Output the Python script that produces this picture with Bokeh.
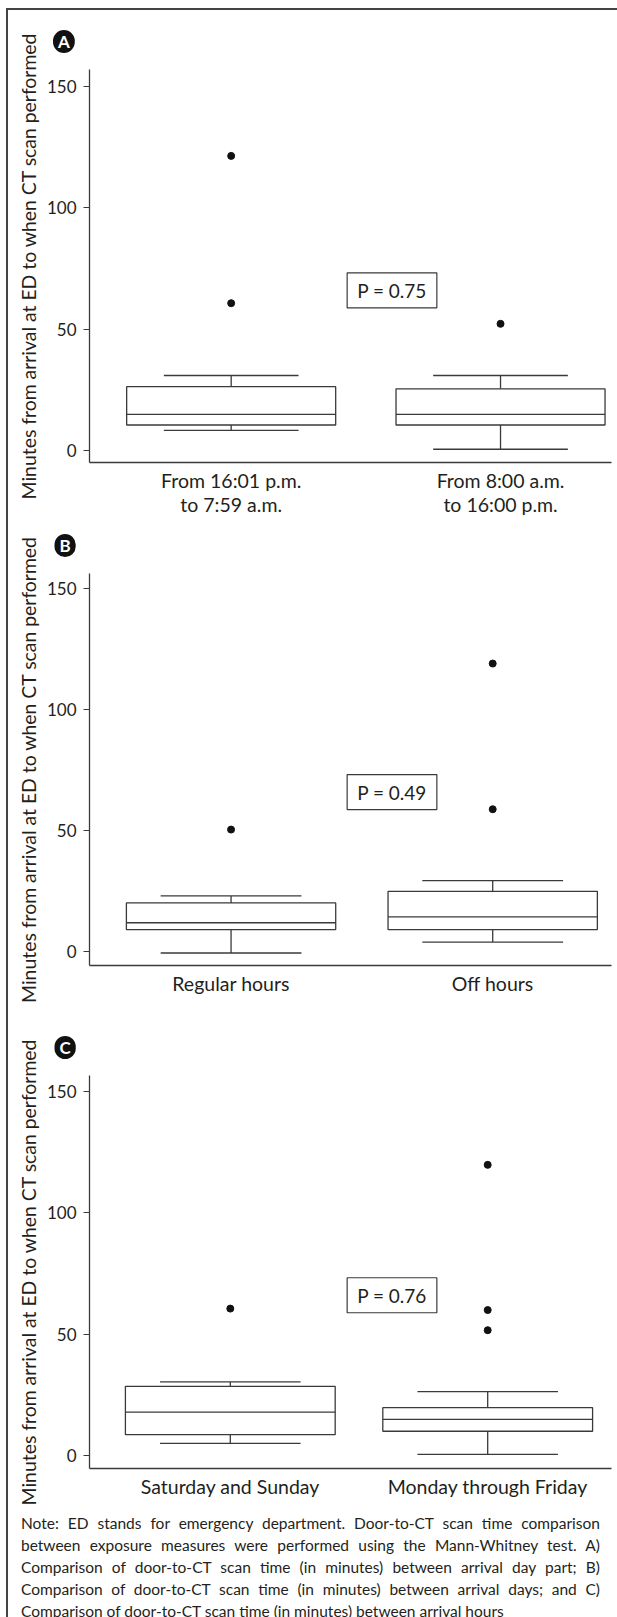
from bokeh.plotting import figure
from bokeh.models import Label, Div, Range1d, FixedTicker, ColumnDataSource
from bokeh.layouts import column
from bokeh.embed import file_html
from bokeh.resources import INLINE

# ---------------- data ----------------
y_label = "Minutes from arrival at ED to when CT scan performed"
y_ticks = [0, 50, 100, 150]

a_groups = ["From 16:01 p.m.\nto 7:59 a.m.", "From 8:00 a.m.\nto 16:00 p.m."]
a_low = [8.3, 0.5]
a_q1 = [10.5, 10.5]
a_med = [14.9, 14.9]
a_q3 = [26.3, 25.4]
a_high = [30.9, 30.9]
a_out_group = [1, 1, 2]
a_out_value = [121.4, 60.7, 52.2]
a_p = "P = 0.75"

b_groups = ["Regular hours", "Off hours"]
b_low = [-0.5, 4.0]
b_q1 = [9.2, 9.2]
b_med = [12.0, 14.4]
b_q3 = [20.2, 25.0]
b_high = [23.1, 29.4]
b_out_group = [1, 2, 2]
b_out_value = [50.5, 119.1, 58.9]
b_p = "P = 0.49"

c_groups = ["Saturday and Sunday", "Monday through Friday"]
c_low = [5.0, 0.5]
c_q1 = [8.6, 10.0]
c_med = [17.9, 14.9]
c_q3 = [28.5, 19.7]
c_high = [30.3, 26.3]
c_out_group = [1, 2, 2, 2]
c_out_value = [60.5, 119.7, 59.9, 51.6]
c_p = "P = 0.76"

note_lines = [
    "Note: ED stands for emergency department. Door-to-CT scan time comparison",
    "between exposure measures were performed using the Mann-Whitney test. A)",
    "Comparison of door-to-CT scan time (in minutes) between arrival day part; B)",
    "Comparison of door-to-CT scan time (in minutes) between arrival days; and C)",
    "Comparison of door-to-CT scan time (in minutes) between arrival hours",
]

# ---------------- style ----------------
FONT = "Lato"
TXT = "#231f20"
LINE = "#3a3a3a"
W = 609


def panel(letter, groups, low, q1, med, q3, high, out_g, out_v, ptext,
          xr, yr, half, cap, height, btop, bbottom, badge_offset):
    p = figure(width=W, height=height, output_backend="svg", toolbar_location=None,
               x_range=Range1d(*xr), y_range=Range1d(*yr),
               min_border_left=81, min_border_right=6,
               min_border_top=btop, min_border_bottom=bbottom)
    p.outline_line_color = None
    p.grid.visible = False
    p.background_fill_color = "white"
    p.border_fill_color = "white"

    # panel letter badge (title, drawn outside the frame)
    p.title.text = letter
    p.title.align = "left"
    p.title.vertical_align = "top"
    p.title.offset = badge_offset
    p.title.standoff = 29
    p.title.text_font = FONT
    p.title.text_font_size = "17px"
    p.title.text_font_style = "bold"
    p.title.text_color = "white"
    p.title.background_fill_color = "#111111"
    p.title.border_radius = 11
    p.title.padding = (5, 1)

    xs = [i + 1 for i in range(len(groups))]
    src = ColumnDataSource(dict(
        x=xs, left=[x - half for x in xs], right=[x + half for x in xs],
        cl=[x - cap for x in xs], cr=[x + cap for x in xs],
        low=low, q1=q1, med=med, q3=q3, high=high))
    lw = 1.3
    p.segment(x0="x", y0="q3", x1="x", y1="high", source=src, line_color=LINE, line_width=lw)
    p.segment(x0="x", y0="low", x1="x", y1="q1", source=src, line_color=LINE, line_width=lw)
    p.segment(x0="cl", y0="high", x1="cr", y1="high", source=src, line_color=LINE, line_width=lw)
    p.segment(x0="cl", y0="low", x1="cr", y1="low", source=src, line_color=LINE, line_width=lw)
    p.quad(left="left", right="right", bottom="q1", top="q3", source=src,
           fill_color="white", line_color=LINE, line_width=lw)
    p.segment(x0="left", y0="med", x1="right", y1="med", source=src, line_color=LINE, line_width=lw)
    p.scatter(x=out_g, y=out_v, size=7, color="#111111")

    # axes
    p.xaxis.ticker = FixedTicker(ticks=xs)
    p.xaxis.major_label_overrides = {x: g for x, g in zip(xs, groups)}
    p.xaxis.major_tick_out = 0
    p.xaxis.major_tick_in = 0
    p.xaxis.minor_tick_out = 0
    p.xaxis.minor_tick_in = 0
    p.xaxis.major_label_standoff = 6
    p.xaxis.major_label_text_font = FONT
    p.xaxis.major_label_text_font_size = "19.5px"
    p.xaxis.major_label_text_line_height = 1.05
    p.xaxis.major_label_text_color = TXT
    p.xaxis.axis_line_color = LINE
    p.xaxis.axis_line_width = 1.3

    p.yaxis.ticker = FixedTicker(ticks=y_ticks)
    p.yaxis.major_tick_out = 6
    p.yaxis.major_tick_in = 0
    p.yaxis.minor_tick_out = 0
    p.yaxis.minor_tick_in = 0
    p.yaxis.major_label_standoff = 7
    p.yaxis.major_label_text_font = FONT
    p.yaxis.major_label_text_font_size = "17px"
    p.yaxis.major_label_text_color = TXT
    p.yaxis.major_tick_line_color = LINE
    p.yaxis.axis_line_color = LINE
    p.yaxis.axis_line_width = 1.3
    p.yaxis.axis_label = y_label
    p.yaxis.axis_label_text_font = FONT
    p.yaxis.axis_label_text_font_size = "19.4px"
    p.yaxis.axis_label_text_font_style = "normal"
    p.yaxis.axis_label_text_color = TXT
    p.yaxis.axis_label_standoff = 4

    # P-value box
    p.add_layout(Label(x=302.5, y=66, x_units="screen", y_units="data", text=ptext,
                       text_align="center", text_baseline="middle",
                       text_font=FONT, text_font_size="19px", text_color=TXT,
                       border_line_color=LINE, border_line_width=1.2,
                       background_fill_color="white", padding=(10, 6)))
    return p


pa = panel("A", a_groups, a_low, a_q1, a_med, a_q3, a_high, a_out_group, a_out_value, a_p,
           (0.474, 2.412), (-4.95, 157.0), 0.388, 0.25, 509, 59, 57, -36.5)
pb = panel("B", b_groups, b_low, b_q1, b_med, b_q3, b_high, b_out_group, b_out_value, b_p,
           (0.459, 2.454), (-5.66, 156.3), 0.40, 0.269, 490, 54, 44, -35)
pc = panel("C", c_groups, c_low, c_q1, c_med, c_q3, c_high, c_out_group, c_out_value, c_p,
           (0.453, 2.481), (-5.35, 156.5), 0.4075, 0.273, 498, 66, 39, -35)

rows = []
for i, line in enumerate(note_lines):
    if i < len(note_lines) - 1:
        st = "line-height:22px;height:22px;text-align:justify;text-align-last:justify;"
    else:
        st = "line-height:22px;height:22px;text-align:left;white-space:nowrap;"
    rows.append('<div style="%s">%s</div>' % (st, line))
note_html = ('<div style="font-family:Lato;font-size:15.5px;color:%s;padding:0 7px 0 8px;'
             'width:594px;">%s</div>' % (TXT, "".join(rows)))
note = Div(text=note_html, width=W, height=110)

layout = column(pa, pb, pc, note,
                styles={"margin-left": "6px", "margin-top": "8px",
                        "border-left": "2px solid #444444", "border-top": "2px solid #444444"})

open("out.html", "w").write(file_html(layout, INLINE))
